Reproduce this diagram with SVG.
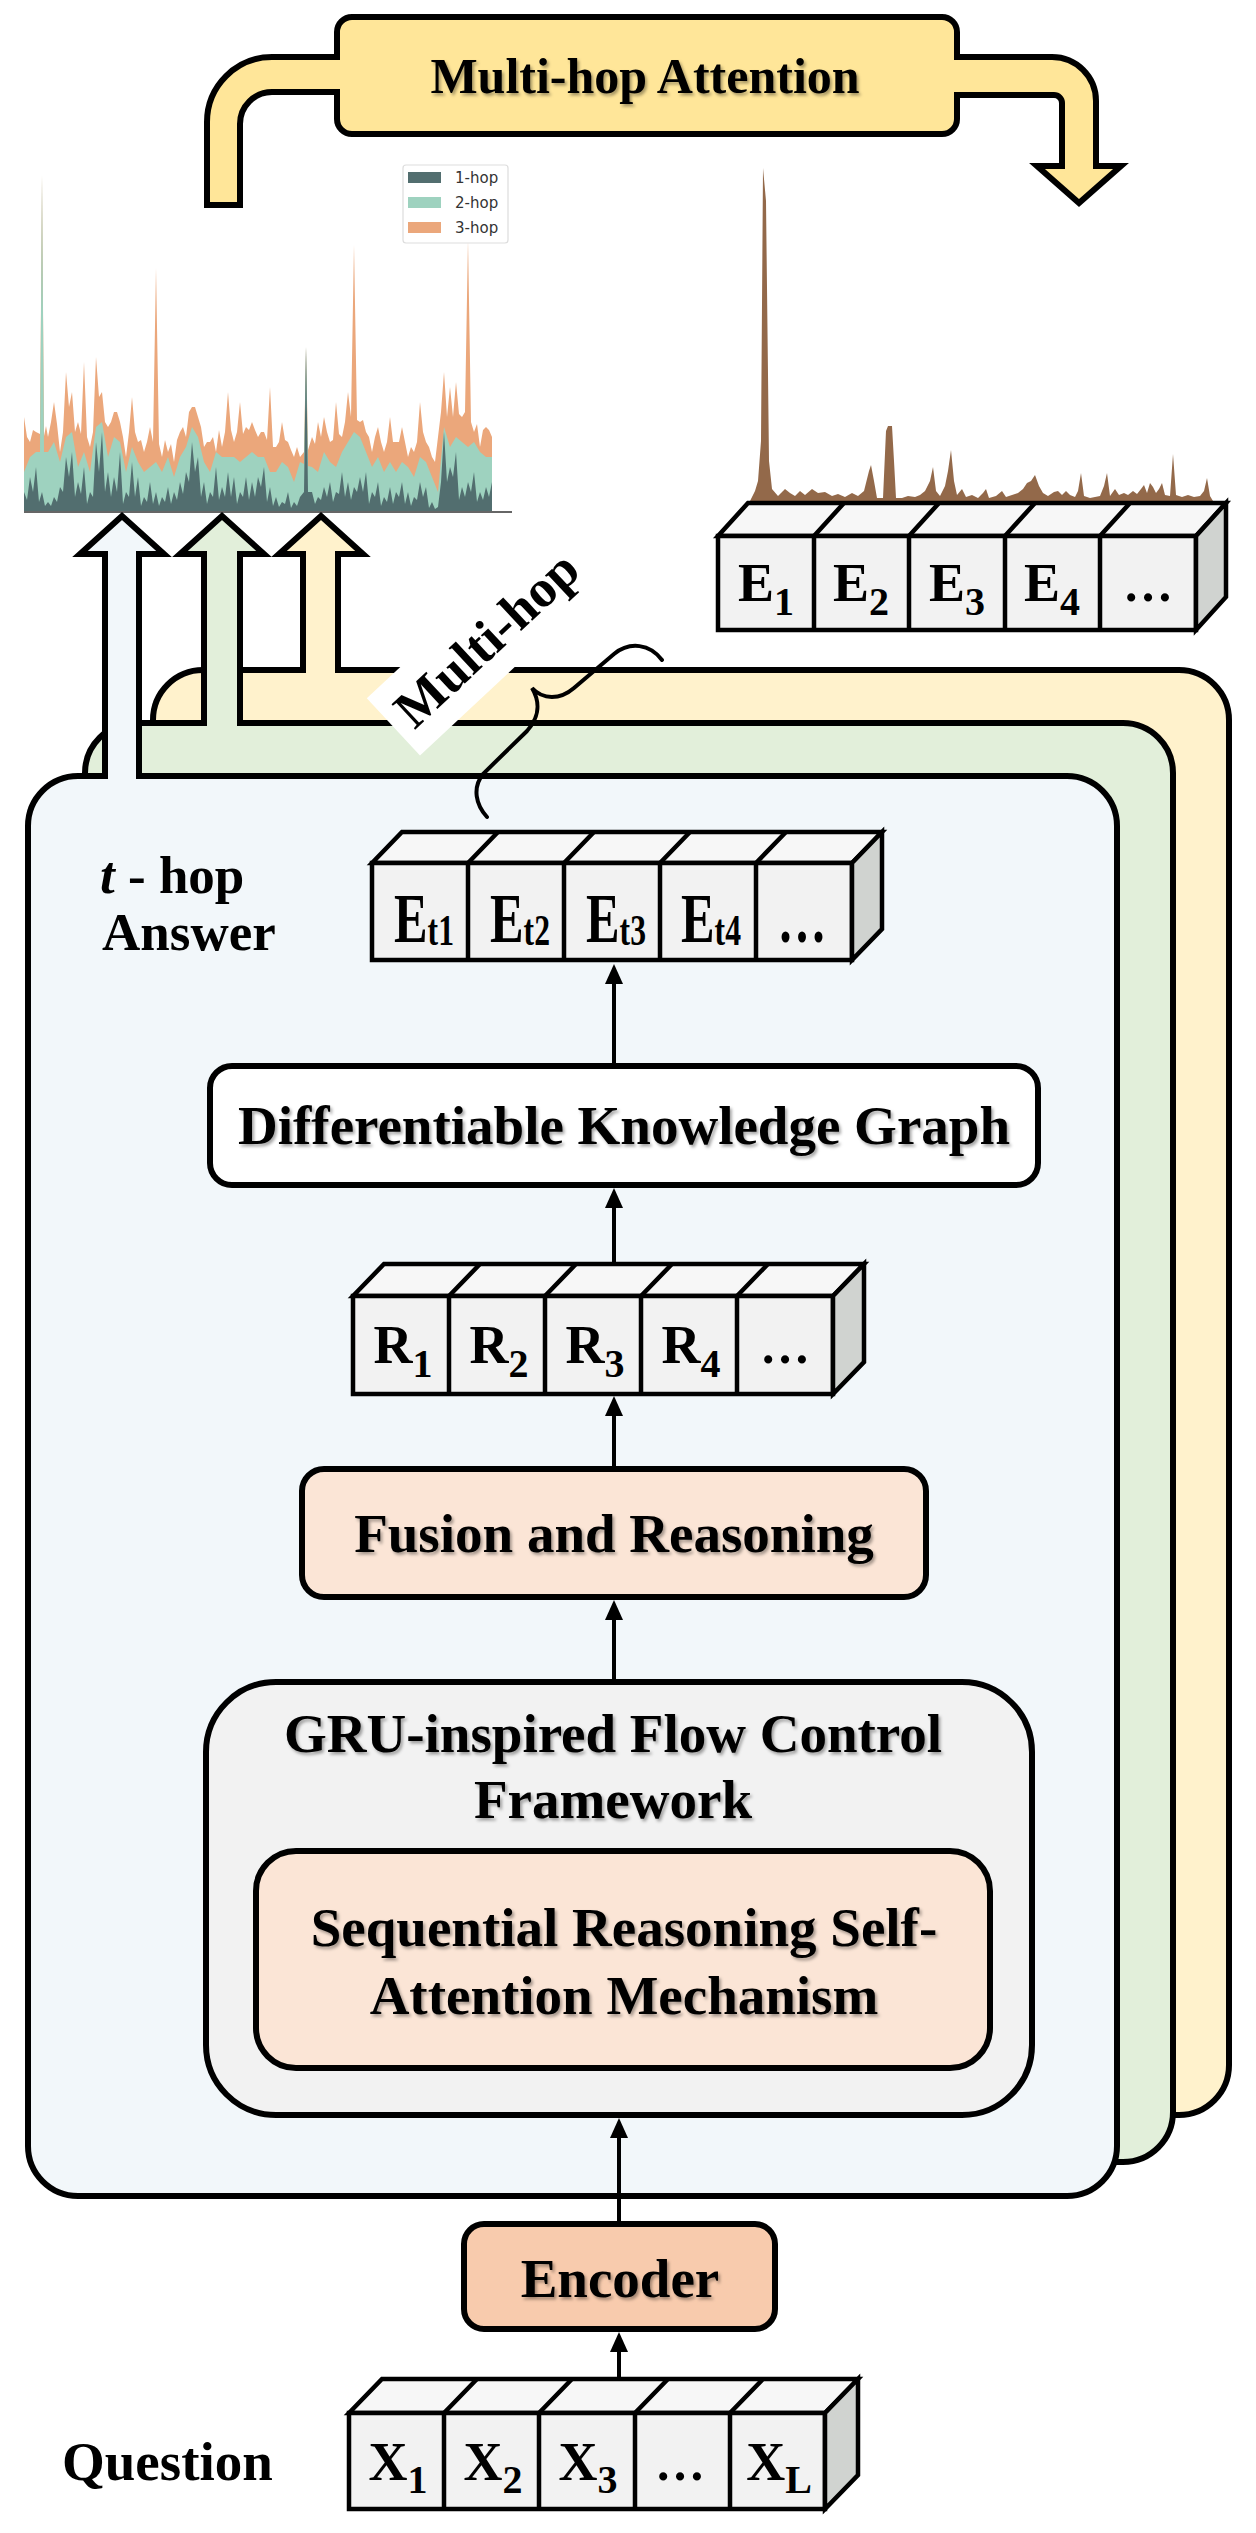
<svg xmlns="http://www.w3.org/2000/svg" width="1256" height="2533" viewBox="0 0 1256 2533">
<defs>
<style>
.b{font-family:"Liberation Serif","Times New Roman",serif;font-weight:bold;fill:#000}
.sh{filter:url(#sh)}
.ol{stroke:#000;stroke-width:6;stroke-linejoin:miter}
.cf{fill:#F2F2F2;stroke:#000;stroke-width:4.5;stroke-linejoin:miter}
.ct{fill:#F7F7F7;stroke:#000;stroke-width:4.5;stroke-linejoin:miter}
.cs{fill:#D0D3D0;stroke:#000;stroke-width:4.5;stroke-linejoin:miter}
.cd{fill:none;stroke:#000;stroke-width:4.5}
.conn{fill:none;stroke:#000;stroke-width:4}
.lg{font-family:"DejaVu Sans",sans-serif;font-size:15px;fill:#333}
</style>
<filter id="sh" x="-5%" y="-20%" width="110%" height="150%">
<feDropShadow dx="2" dy="2.5" stdDeviation="1.5" flood-color="#000" flood-opacity="0.35"/>
</filter>
<marker id="ah" markerUnits="userSpaceOnUse" markerWidth="20" markerHeight="18" viewBox="0 0 20 18" refX="0" refY="9" orient="auto">
<path d="M0,0 L20,9 L0,18 Z" fill="#000"/>
</marker>
</defs>

<g id="multi-hop-attention">
<path class="ol" fill="#FFE699" d="M207,205 V122 A65,65 0 0 1 272,57 H337 V32 A15,15 0 0 1 352,17 H942 A15,15 0 0 1 957,32 V57 H1052 A44,44 0 0 1 1096,101 V166 H1121 L1079,203 L1037,166 H1062 V103 A8,8 0 0 0 1054,95 H957 V119 A15,15 0 0 1 942,134 H352 A15,15 0 0 1 337,119 V92 H272 A32,32 0 0 0 240,124 V205 Z"/>
<text class="b sh" x="645" y="93" font-size="50" text-anchor="middle">Multi-hop Attention</text>
</g>

<g id="chart-hops">
<g transform="translate(0,512) scale(1,-1)">
<polygon fill="#EBA77B" points="24,0 24,95 27,75 30,70 33,82 36,80 40,78 42,337 44,76 46,86 48,75 51,90 54,110 57,88 60,60 63,80 66,140 69,105 72,120 75,80 78,90 81,78 84,150 87,75 90,65 93,80 96,155 99,115 102,120 105,90 108,85 111,90 114,100 117,100 120,90 123,75 126,55 129,80 132,115 135,80 138,70 141,72 144,60 147,70 150,85 153,70 156,244 159,68 162,55 165,72 168,60 171,68 174,50 177,72 180,80 183,85 186,75 189,100 192,105 195,105 198,95 201,85 204,65 207,70 210,70 213,75 216,60 219,82 222,65 225,80 228,120 231,82 234,70 237,80 240,110 243,78 246,85 249,82 252,90 255,82 258,75 261,80 264,80 267,72 270,125 273,65 276,65 279,70 282,90 285,72 288,70 291,62 294,55 297,65 300,55 304,60 306,165 308,62 312,75 315,68 318,90 321,75 324,95 327,80 330,70 333,72 336,110 339,78 342,75 345,90 348,120 351,95 354,267 357,92 360,90 363,92 366,80 369,75 372,60 375,75 378,85 381,70 384,60 387,70 390,95 393,70 396,70 399,70 402,85 405,70 408,55 411,65 414,60 417,70 420,110 423,80 426,70 429,65 432,55 435,50 438,75 441,100 444,140 447,95 450,125 453,95 456,130 459,98 462,95 465,100 468,272 471,90 474,80 477,88 480,65 483,82 486,85 489,82 492,75 492,0"/>
<polygon fill="#9ED2BF" points="24,0 24,40 30,55 36,60 40,60 42,337 44,60 48,60 54,70 60,50 66,75 72,80 78,45 84,60 90,40 96,85 102,90 108,55 114,75 120,70 126,40 132,65 138,50 144,40 150,45 156,50 162,40 168,55 174,35 180,55 186,65 192,85 198,75 204,50 210,40 216,60 222,55 228,55 234,55 240,50 246,55 252,60 258,55 264,55 270,40 276,40 282,50 288,45 294,30 300,50 304,48 306,165 308,46 312,45 318,40 324,60 330,50 336,45 342,60 348,70 354,80 360,75 366,60 372,45 378,55 384,40 390,50 396,40 402,50 408,45 414,35 420,55 426,50 432,35 438,20 444,85 450,65 456,75 462,70 468,65 474,70 480,60 486,55 492,55 492,0"/>
<polygon fill="#526E6F" points="24,0 24,20 27,12 30,35 33,20 36,45 39,10 42,20 45,6 48,10 51,6 54,15 57,10 60,25 63,20 66,55 69,35 72,60 75,15 78,30 81,18 84,45 87,8 90,20 93,15 96,70 99,40 102,80 105,20 108,40 111,15 114,35 117,20 120,60 123,8 126,20 129,15 132,50 135,15 138,35 141,6 144,15 147,10 150,30 153,8 156,20 159,6 162,15 165,10 168,25 171,8 174,20 177,12 180,30 183,18 186,40 189,30 192,70 195,40 198,55 201,15 204,30 207,8 210,20 213,15 216,45 219,12 222,25 225,15 228,40 231,15 234,35 237,8 240,20 243,15 246,35 249,12 252,30 255,15 258,35 261,25 264,45 267,10 270,25 273,6 276,15 279,5 282,10 285,8 288,20 291,4 294,10 297,6 300,15 304,20 306,165 308,20 312,20 315,8 318,15 321,12 324,25 327,15 330,30 333,10 336,20 339,18 342,40 345,15 348,30 351,12 354,25 357,20 360,35 363,20 366,40 369,8 372,20 375,15 378,30 381,6 384,15 387,10 390,25 393,8 396,20 399,15 402,30 405,8 408,20 411,6 414,15 417,12 420,30 423,15 426,25 429,4 432,10 435,3 438,5 441,30 444,80 447,30 450,45 453,35 456,60 459,12 462,25 465,15 468,30 471,20 474,40 477,10 480,20 483,12 486,25 489,15 492,30 492,0"/>
</g>
<line x1="24" y1="512" x2="512" y2="512" stroke="#666" stroke-width="2"/>
<rect x="403" y="165" width="105" height="78" rx="3" fill="#fff" stroke="#ddd" stroke-width="1.2"/>
<rect x="408" y="172" width="33" height="11" fill="#526E6F"/>
<rect x="408" y="197" width="33" height="11" fill="#9ED2BF"/>
<rect x="408" y="222" width="33" height="11" fill="#EBA77B"/>
<text class="lg" x="455" y="183">1-hop</text>
<text class="lg" x="455" y="208">2-hop</text>
<text class="lg" x="455" y="233">3-hop</text>
</g>

<g id="chart-answer">
<g transform="translate(0,501) scale(1,-1)">
<polygon fill="#93694A" points="750,0 755,10 758,20 761,60 763,333 766,300 769,40 772,12 778,5 785,12 790,8 795,5 800,10 805,6 812,12 818,8 825,9 832,5 838,7 845,4 852,8 858,5 864,10 869,30 871,36 874,20 877,3 883,3 886,70 888,75 892,75 894,40 896,3 902,3 908,5 915,4 920,6 925,10 930,20 933,34 936,10 940,5 945,15 948,30 951,51 954,20 957,6 962,12 966,4 972,6 978,3 983,8 986,12 989,3 996,5 1002,10 1006,4 1012,6 1018,8 1023,12 1027,18 1031,20 1035,26 1039,15 1043,8 1048,5 1054,9 1058,10 1062,6 1066,10 1070,6 1075,4 1078,10 1081,28 1084,5 1090,3 1095,4 1100,5 1104,15 1107,28 1110,5 1115,12 1119,6 1124,8 1128,6 1133,10 1137,7 1141,12 1144,16 1147,8 1150,18 1153,14 1156,8 1159,12 1162,18 1165,6 1170,5 1173,47 1176,6 1182,4 1188,6 1194,4 1200,5 1204,10 1207,23 1210,5 1213,0"/>
</g>
</g>

<g id="entities-final">
<polygon class="ct" points="718,536 748,503 1226,503 1196,536"/>
<rect class="cf" x="718" y="536" width="478" height="94"/>
<polygon class="cs" points="1196,536 1226,503 1226,597 1196,630"/>
<path class="cd" d="M814,536V630 M909,536V630 M1005,536V630 M1100,536V630 M814,536L844,503 M909,536L939,503 M1005,536L1035,503 M1100,536L1130,503"/>
<text class="b" font-size="54" text-anchor="middle" x="766" y="601">E<tspan font-size="40" dy="14">1</tspan></text>
<text class="b" font-size="54" text-anchor="middle" x="861" y="601">E<tspan font-size="40" dy="14">2</tspan></text>
<text class="b" font-size="54" text-anchor="middle" x="957" y="601">E<tspan font-size="40" dy="14">3</tspan></text>
<text class="b" font-size="54" text-anchor="middle" x="1052" y="601">E<tspan font-size="40" dy="14">4</tspan></text>
<text class="b" font-size="50" text-anchor="middle" x="1148" y="601">…</text>
</g>

<g id="panel-hop3">
<rect class="ol" fill="#FFF2CC" x="153" y="670" width="1076" height="1445" rx="50"/>
<path class="ol" fill="#FFF2CC" d="M303,673 V554 H279 L321,516 L363,554 H338 V673"/>
</g>

<g id="panel-hop2">
<rect class="ol" fill="#E2EFDA" x="85" y="723" width="1088" height="1439" rx="50"/>
<path class="ol" fill="#E2EFDA" d="M204,726 V554 H180 L222,516 L264,554 H240 V726"/>
</g>

<g id="multi-hop-label" transform="translate(498.6,652) rotate(-43)">
<rect x="-128" y="-56" width="256" height="78" fill="#fff"/>
<text class="b" x="0" y="0" font-size="53" text-anchor="middle">Multi-hop</text>
</g>

<g id="panel-hop1">
<rect class="ol" fill="#F2F7FA" x="28" y="776" width="1089" height="1420" rx="50"/>
<path class="ol" fill="#F2F7FA" d="M105,779 V554 H80 L122,516 L164,554 H139 V779"/>
</g>

<g id="brace">
<path d="M487,817 C476,805 472,788 483,774 L527,731 C537,720 542,705 532,688 C543,700 560,700 574,688 L614,654 C630,641 650,644 662,660" fill="none" stroke="#000" stroke-width="4" stroke-linecap="round" stroke-linejoin="miter"/>
</g>

<g id="t-hop-label">
<text class="b" x="100" y="893" font-size="53"><tspan font-style="italic">t</tspan> - hop</text>
<text class="b" x="102" y="950" font-size="53">Answer</text>
</g>

<g id="entities-t">
<polygon class="ct" points="372,863 402,832 882,832 852,863"/>
<rect class="cf" x="372" y="863" width="480" height="97"/>
<polygon class="cs" points="852,863 882,832 882,929 852,960"/>
<path class="cd" d="M468,863V960 M564,863V960 M660,863V960 M756,863V960 M468,863L498,832 M564,863L594,832 M660,863L690,832 M756,863L786,832"/>
<text class="b" font-size="70" text-anchor="middle" transform="translate(424,942) scale(0.72,1)">E<tspan font-size="44" dy="3">t1</tspan></text>
<text class="b" font-size="70" text-anchor="middle" transform="translate(520,942) scale(0.72,1)">E<tspan font-size="44" dy="3">t2</tspan></text>
<text class="b" font-size="70" text-anchor="middle" transform="translate(616,942) scale(0.72,1)">E<tspan font-size="44" dy="3">t3</tspan></text>
<text class="b" font-size="70" text-anchor="middle" transform="translate(711,942) scale(0.72,1)">E<tspan font-size="44" dy="3">t4</tspan></text>
<text class="b" font-size="68" text-anchor="middle" transform="translate(802,942) scale(0.72,1)">…</text>
</g>

<g id="dkg">
<rect class="ol" fill="#FFFFFF" x="210" y="1066" width="828" height="119" rx="22"/>
<text class="b sh" x="624" y="1144" font-size="55" text-anchor="middle">Differentiable Knowledge Graph</text>
</g>

<g id="relations">
<polygon class="ct" points="353,1296 384,1264 864,1264 833,1296"/>
<rect class="cf" x="353" y="1296" width="480" height="98"/>
<polygon class="cs" points="833,1296 864,1264 864,1362 833,1394"/>
<path class="cd" d="M449,1296V1394 M545,1296V1394 M641,1296V1394 M737,1296V1394 M449,1296L480,1264 M545,1296L576,1264 M641,1296L672,1264 M737,1296L768,1264"/>
<text class="b" font-size="54" text-anchor="middle" x="403" y="1363">R<tspan font-size="40" dy="14">1</tspan></text>
<text class="b" font-size="54" text-anchor="middle" x="499" y="1363">R<tspan font-size="40" dy="14">2</tspan></text>
<text class="b" font-size="54" text-anchor="middle" x="595" y="1363">R<tspan font-size="40" dy="14">3</tspan></text>
<text class="b" font-size="54" text-anchor="middle" x="691" y="1363">R<tspan font-size="40" dy="14">4</tspan></text>
<text class="b" font-size="50" text-anchor="middle" x="785" y="1363">…</text>
</g>

<g id="fusion">
<rect class="ol" fill="#FBE5D6" x="302" y="1469" width="624" height="128" rx="22"/>
<text class="b sh" x="614" y="1552" font-size="55" text-anchor="middle">Fusion and Reasoning</text>
</g>

<g id="gru">
<rect class="ol" fill="#F2F2F2" x="206" y="1682" width="826" height="433" rx="70"/>
<text class="b sh" x="613" y="1752" font-size="55" text-anchor="middle">GRU-inspired Flow Control</text>
<text class="b sh" x="613" y="1818" font-size="55" text-anchor="middle">Framework</text>
</g>

<g id="srsa">
<rect class="ol" fill="#FBE5D6" x="256" y="1851" width="734" height="217" rx="40"/>
<text class="b sh" x="624" y="1946" font-size="55" text-anchor="middle">Sequential Reasoning Self-</text>
<text class="b sh" x="624" y="2014" font-size="55" text-anchor="middle">Attention Mechanism</text>
</g>

<g id="encoder">
<rect class="ol" fill="#F8CBAD" x="464" y="2224" width="311" height="105" rx="20"/>
<text class="b sh" x="620" y="2297" font-size="55" text-anchor="middle">Encoder</text>
</g>

<g id="question">
<polygon class="ct" points="349,2413 382,2379 858,2379 825,2413"/>
<rect class="cf" x="349" y="2413" width="476" height="96"/>
<polygon class="cs" points="825,2413 858,2379 858,2475 825,2509"/>
<path class="cd" d="M444,2413V2509 M539,2413V2509 M635,2413V2509 M730,2413V2509 M444,2413L477,2379 M539,2413L572,2379 M635,2413L668,2379 M730,2413L763,2379"/>
<text class="b" font-size="54" text-anchor="middle" x="398" y="2480">X<tspan font-size="40" dy="13">1</tspan></text>
<text class="b" font-size="54" text-anchor="middle" x="493" y="2480">X<tspan font-size="40" dy="13">2</tspan></text>
<text class="b" font-size="54" text-anchor="middle" x="588" y="2480">X<tspan font-size="40" dy="13">3</tspan></text>
<text class="b" font-size="50" text-anchor="middle" x="680" y="2480">…</text>
<text class="b" font-size="54" text-anchor="middle" x="779" y="2480">X<tspan font-size="40" dy="13">L</tspan></text>
<text class="b" x="62" y="2480" font-size="55">Question</text>
</g>

<g id="connectors">
<path class="conn" marker-end="url(#ah)" d="M614,1063 V984"/>
<path class="conn" marker-end="url(#ah)" d="M614,1264 V1208"/>
<path class="conn" marker-end="url(#ah)" d="M614,1466 V1416"/>
<path class="conn" marker-end="url(#ah)" d="M614,1679 V1620"/>
<path class="conn" marker-end="url(#ah)" d="M619,2221 V2138"/>
<path class="conn" marker-end="url(#ah)" d="M619,2379 V2352"/>
</g>
</svg>
